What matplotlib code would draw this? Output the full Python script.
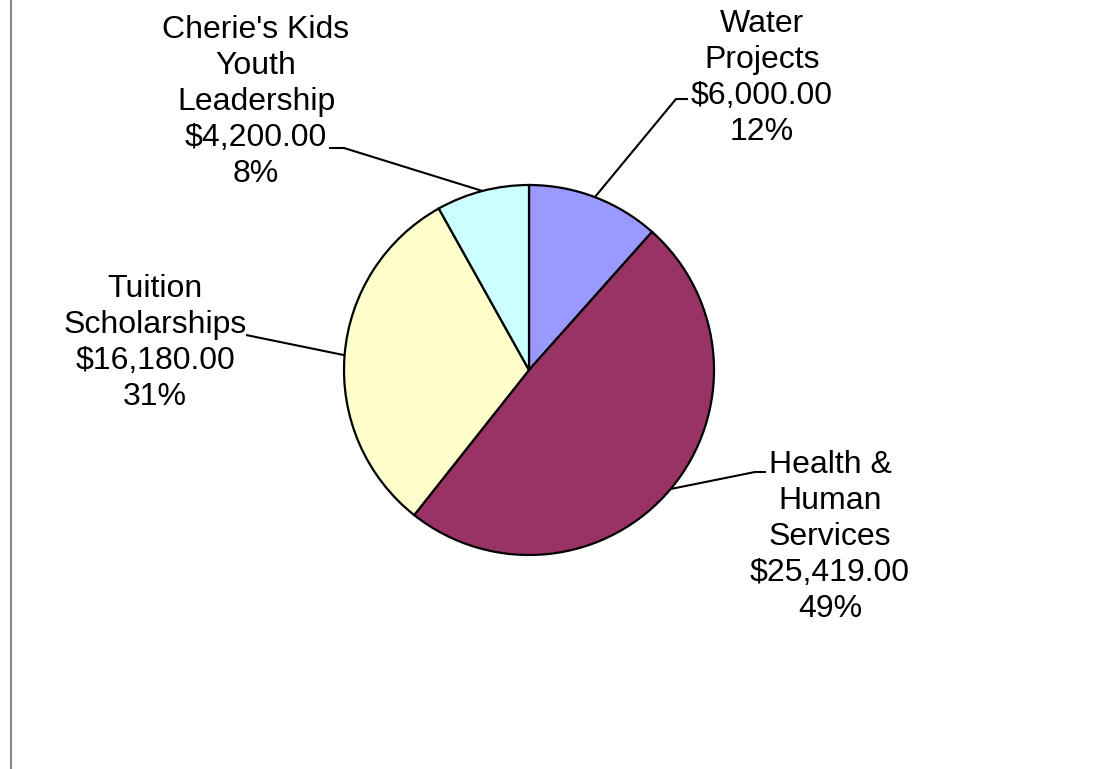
import numpy as np
import matplotlib
matplotlib.use("Agg")
import matplotlib.pyplot as plt
from matplotlib.lines import Line2D

categories = ["Water\nProjects", "Health &\nHuman\nServices", "Tuition\nScholarships",
              "Cherie's Kids\nYouth\nLeadership"]
amounts = [6000.00, 25419.00, 16180.00, 4200.00]
colors = ["#9999FF", "#993366", "#FFFFCC", "#CCFFFF"]

W, H = 1104, 769
fig = plt.figure(figsize=(W / 100, H / 100), dpi=100)
ax = fig.add_axes([0, 0, 1, 1])

def Y(y):
    return H - y

cx, cy, R = 529, 370, 185
wedges, _ = ax.pie(amounts, colors=colors, startangle=90, counterclock=False,
                   center=(cx, Y(cy)), radius=R,
                   wedgeprops=dict(edgecolor="black", linewidth=1.6), frame=True)
ax.set_xlim(0, W)
ax.set_ylim(0, H)
ax.set_aspect("equal")
ax.axis("off")

total = sum(amounts)
# label text centre (image px) and leader elbow/end points (image px)
label_pos = [(762, 78), (830, 537), (155, 343), (256, 102)]
elbows = [((676, 99), (688, 99)),
          ((755, 472), (766, 472)),
          ((246, 335), (246, 335)),
          ((344, 148), (329, 148))]

for w, name, amt, (lx, ly), (e1, e2) in zip(wedges, categories, amounts, label_pos, elbows):
    mid = np.deg2rad((w.theta1 + w.theta2) / 2)
    px = cx + R * np.cos(mid)
    py = Y(cy) + R * np.sin(mid)
    ax.plot([px, e1[0], e2[0]], [py, Y(e1[1]), Y(e2[1])], color="black", lw=1.5,
            solid_capstyle="butt", zorder=3)
    txt = f"{name}\n${amt:,.2f}\n{amt / total * 100:.0f}%"
    ax.text(lx, Y(ly), txt, ha="center", va="center", fontsize=23,
            family=["Liberation Sans", "DejaVu Sans"], linespacing=1.27, color="black")

fig.add_artist(Line2D([10.5 / W, 10.5 / W], [0, 1], transform=fig.transFigure,
                      color="#888888", lw=1.5))

fig.savefig("out.png", dpi=100, facecolor="white")
